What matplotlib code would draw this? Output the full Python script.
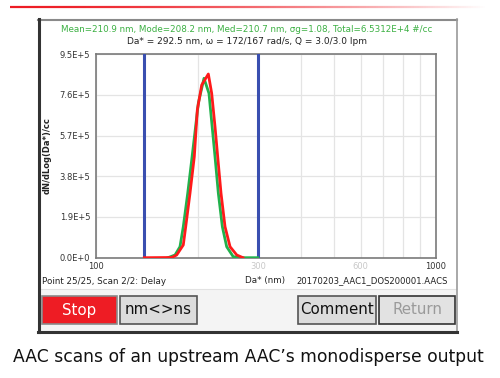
import numpy as np
import matplotlib
matplotlib.use("Agg")
import matplotlib.pyplot as plt
from matplotlib.patches import Rectangle
from matplotlib.transforms import ScaledTranslation

# ---------------- data ----------------
red_d = [138.7, 167.0, 172.7, 180.6, 183.6, 189.0, 194.6, 198.6, 204.6, 214.0,
         218.9, 223.9, 228.0, 233.2, 239.6, 247.9, 259.4, 270.6]
red_n = [0, 1000, 12600, 59300, 144700, 300600, 471500, 689500, 806200, 857600,
         767400, 611500, 471500, 300600, 144700, 51300, 12600, 0]

green_d = [162.8, 170.8, 176.6, 180.6, 186.1, 191.2, 200.0, 207.8, 214.9, 223.9,
           229.0, 235.3, 242.3, 253.3, 270.6, 299.0]
green_n = [0, 12600, 51300, 144700, 300600, 456000, 722000, 837500, 767400, 471500,
           300600, 144700, 51300, 4700, 0, 0]

limits = [138.7, 299.0]
yticks = [0, 1.9e5, 3.8e5, 5.7e5, 7.6e5, 9.5e5]
ytick_labels = ["0.0E+0", "1.9E+5", "3.8E+5", "5.7E+5", "7.6E+5", "9.5E+5"]
xticks = [100, 300, 600, 1000]
xtick_labels = ["100", "300", "600", "1000"]
xtick_colors = ["#333333", "#c8c8c8", "#c8c8c8", "#333333"]
xgrid = [200, 300, 400, 500, 600, 700, 800, 900]

stats_line = "Mean=210.9 nm, Mode=208.2 nm, Med=210.7 nm, \u03c3g=1.08, Total=6.5312E+4 #/cc"
cond_line = "Da* = 292.5 nm, \u03c9 = 172/167 rad/s, Q = 3.0/3.0 lpm"
status_left = "Point 25/25, Scan 2/2: Delay"
xlabel = "Da* (nm)"
filename = "20170203_AAC1_DOS200001.AACS"
caption = "AAC scans of an upstream AAC\u2019s monodisperse output"

# ---------------- figure ----------------
W, H = 500, 378
fig = plt.figure(figsize=(W / 100, H / 100), dpi=100)
fig.patch.set_facecolor("white")

def fx(x):
    return x / W

def fy(y):
    return 1 - y / H

def rect_axes(l, t, r, b):
    return [fx(l), fy(b), fx(r) - fx(l), (b - t) / H]

# background overlay axes for UI
bg = fig.add_axes([0, 0, 1, 1])
bg.set_xlim(0, W)
bg.set_ylim(H, 0)
bg.axis("off")

# red gradient rule at top
n = 200
xs = np.linspace(10, 485, n + 1)
for i in range(n):
    a = max(0.0, 1 - (i / n) ** 1.6)
    bg.plot(xs[i:i + 2], [7, 7], color=(0.93, 0.11, 0.14, a), lw=1.6,
            solid_capstyle="butt")

# panel
bg.add_patch(Rectangle((38, 19), 419, 313, facecolor="white", edgecolor="none"))
bg.add_patch(Rectangle((38, 289), 419, 43, facecolor="#f4f4f4", edgecolor="none"))
bg.plot([39, 456], [289, 289], color="#e2e2e2", lw=0.8)
bg.plot([38, 457], [19.5, 19.5], color="#8a8a8a", lw=1.5)
bg.plot([457, 457], [19, 332], color="#9a9a9a", lw=1.2)
bg.plot([39, 39], [19, 332], color="#333333", lw=2.2)
bg.plot([38, 457], [331.5, 331.5], color="#333333", lw=2.2)

# header texts
bg.text(247, 30, stats_line, color="#3cb043", fontsize=6.35, ha="center", va="center",
        family=["DejaVu Sans"])
bg.text(247, 42, cond_line, color="#222222", fontsize=6.45, ha="center", va="center",
        family=["DejaVu Sans"])

# status line
bg.text(42, 281, status_left, color="#222222", fontsize=6.3, ha="left", va="center")
bg.text(265, 281, xlabel, color="#222222", fontsize=6.3, ha="center", va="center")
bg.text(448, 281, filename, color="#222222", fontsize=6.1, ha="right", va="center")

# buttons
buttons = [
    ("Stop", 42, 117, "#ee1c24", "white", "#8a8a8a"),
    ("nm<>ns", 120, 197, "#dcdcdc", "#111111", "#555555"),
    ("Comment", 298, 376, "#dcdcdc", "#111111", "#555555"),
    ("Return", 379, 455, "#e2e2e2", "#9a9a9a", "#333333"),
]
for label, l, r, fc, tc, ec in buttons:
    bg.add_patch(Rectangle((l, 296), r - l, 27.5, facecolor=fc, edgecolor=ec, lw=1.2))
    bg.text((l + r) / 2, 310, label, color=tc, fontsize=10.8, ha="center", va="center",
            family=["DejaVu Sans"])

# caption
bg.text(248, 357, caption, color="#111111", fontsize=12.3, ha="center", va="center",
        family=["DejaVu Sans"])

# ---------------- plot ----------------
ax = fig.add_axes(rect_axes(96, 54.2, 436, 257.7))
ax.set_xscale("log")
ax.set_xlim(100, 1000)
ax.set_ylim(0, 9.5e5)

ax.set_xticks(xgrid, minor=True)
ax.set_xticklabels([], minor=True)
ax.set_xticks(xticks)
ax.set_xticklabels(xtick_labels)
for lbl, c in zip(ax.get_xticklabels(), xtick_colors):
    lbl.set_color(c)
    lbl.set_fontsize(6)
ax.set_yticks(yticks)
ax.set_yticklabels(ytick_labels, fontsize=6, color="#333333")
for lbl in ax.get_yticklabels():
    lbl.set_transform(lbl.get_transform() + ScaledTranslation(0, 3 / 72, fig.dpi_scale_trans))
ax.tick_params(axis="both", which="both", length=0, pad=4)
ax.tick_params(axis="x", pad=3)

ax.grid(True, which="both", axis="x", color="#e4e4e4", lw=0.9)
ax.grid(True, which="major", axis="y", color="#e4e4e4", lw=0.9)
ax.set_axisbelow(True)
for s in ax.spines.values():
    s.set_color("#7a7a7a")
    s.set_linewidth(1.2)

for v in limits:
    ax.axvline(v, color="#3a4fb0", lw=2.2, zorder=3)

ax.plot(green_d, green_n, color="#22b14c", lw=2.0, zorder=4)
ax.plot(red_d, red_n, color="#ff1a1a", lw=2.0, zorder=5)

ax.set_ylabel("dN/dLog(Da*)/cc", fontsize=6, fontweight="bold", color="#222222",
              labelpad=10)
ax.yaxis.set_label_coords(-0.13, 0.5)

fig.savefig("out.png", dpi=100, facecolor="white")
